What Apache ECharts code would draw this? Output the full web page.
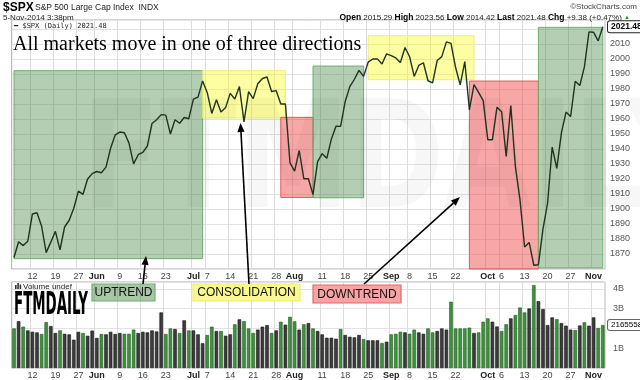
<!DOCTYPE html>
<html><head><meta charset="utf-8">
<script src="https://cdn.jsdelivr.net/npm/echarts@6/dist/echarts.min.js"></script>
<style>html,body{margin:0;padding:0;background:#fff}#c{width:640px;height:380px}</style>
</head><body><div id="c"></div>
<script>
// ---- data (S&P 500 daily, 6-May-2014 .. 5-Nov-2014) ----
const dates = [
 '05-06','05-07','05-08','05-09','05-12','05-13','05-14','05-15','05-16','05-19','05-20','05-21','05-22','05-23','05-27','05-28','05-29','05-30',
 '06-02','06-03','06-04','06-05','06-06','06-09','06-10','06-11','06-12','06-13','06-16','06-17','06-18','06-19','06-20','06-23','06-24','06-25','06-26','06-27','06-30',
 '07-01','07-02','07-03','07-07','07-08','07-09','07-10','07-11','07-14','07-15','07-16','07-17','07-18','07-21','07-22','07-23','07-24','07-25','07-28','07-29','07-30','07-31',
 '08-01','08-04','08-05','08-06','08-07','08-08','08-11','08-12','08-13','08-14','08-15','08-18','08-19','08-20','08-21','08-22','08-25','08-26','08-27','08-28','08-29',
 '09-02','09-03','09-04','09-05','09-08','09-09','09-10','09-11','09-12','09-15','09-16','09-17','09-18','09-19','09-22','09-23','09-24','09-25','09-26','09-29','09-30',
 '10-01','10-02','10-03','10-06','10-07','10-08','10-09','10-10','10-13','10-14','10-15','10-16','10-17','10-20','10-21','10-22','10-23','10-24','10-27','10-28','10-29','10-30','10-31',
 '11-03','11-04','11-05'];
const closes = [
 1867.7,1878.2,1875.6,1878.5,1896.7,1897.5,1888.5,1870.9,1877.9,1885.1,1872.8,1888.0,1892.5,1900.5,1911.9,1909.8,1920.0,1923.6,
 1925.0,1924.2,1927.9,1940.5,1949.4,1951.3,1950.8,1943.9,1930.1,1936.2,1937.8,1942.0,1957.0,1959.5,1962.9,1962.6,1950.0,1959.5,1957.2,1961.0,1960.2,
 1973.3,1974.6,1985.4,1977.7,1963.7,1972.8,1964.7,1967.6,1977.1,1973.3,1981.6,1958.1,1978.2,1973.6,1983.5,1987.0,1988.0,1978.3,1978.9,1970.0,1970.1,1930.7,
 1925.2,1939.0,1920.2,1920.2,1909.6,1931.6,1936.9,1933.8,1946.7,1955.2,1955.1,1971.7,1981.6,1986.5,1992.4,1988.4,1997.9,2000.0,2000.1,1996.7,2003.4,
 2002.3,2000.7,1997.7,2007.7,2001.5,1988.4,1995.7,1997.5,1985.5,1984.1,1999.0,2001.6,2011.4,2010.4,1994.3,1982.8,1998.3,1966.0,1982.9,1977.8,1972.3,
 1946.2,1946.2,1967.9,1964.8,1935.1,1968.9,1928.2,1906.1,1874.7,1877.7,1862.5,1862.8,1886.8,1904.0,1941.3,1927.1,1950.8,1964.6,1961.6,1985.1,1982.3,1994.7,2018.1,
 2017.8,2012.1,2021.48];
// volume in billions of shares
const volumes = [
 2.00,2.37,2.09,1.90,1.83,1.80,1.72,2.32,2.12,1.77,
 1.90,1.73,1.70,1.43,1.83,1.77,1.63,1.89,1.52,1.72,
 1.70,1.83,1.72,1.77,1.73,1.73,1.94,1.77,1.83,1.80,
 1.90,1.85,2.81,1.72,2.00,1.97,1.77,2.41,1.90,1.90,
 1.70,1.25,1.67,2.09,1.87,1.87,1.63,1.70,2.21,2.46,
 2.37,2.00,1.77,1.94,2.09,2.17,1.77,1.90,2.34,2.19,
 2.59,2.36,1.94,2.21,2.27,2.00,1.87,1.70,1.53,1.53,
 1.48,1.97,1.67,1.58,1.55,1.67,1.46,1.40,1.40,1.40,
 1.26,1.33,1.70,1.73,1.83,1.80,1.73,1.94,1.80,1.73,
 2.00,1.80,1.87,2.00,1.94,3.35,2.00,2.00,2.00,2.04,
 1.77,1.80,2.34,2.51,2.34,2.10,1.87,2.21,2.51,2.68,
 3.06,2.81,3.01,4.19,3.38,2.98,2.17,2.56,2.47,2.27,
 2.14,1.94,1.92,2.15,2.31,2.14,2.56,2.02,2.17];
// 1 = green (up) bar, 0 = dark (down) bar
const volUp = [
 1,0,1,0,0,0,1,1,0,0, 1,0,0,0,0,1,0,0,0,1, 0,0,0,0,1,1,1,0,0,0, 0,0,0,1,1,0,1,0,1,0,
 0,0,1,1,0,1,0,0,1,0, 1,1,1,0,0,0,1,0,1,0, 1,1,0,1,0,1,0,0,0,0, 0,1,0,0,0,0,1,0,0,0,
 1,0,1,1,1,0,1,1,0,0, 1,1,0,0,0,1,1,1,1,1, 0,1,1,1,0,0,1,1,0,1, 1,1,0,1,0,0,0,0,1,0,
 0,0,1,0,1,0,0,1,1];
const tickDates  = ['05-12','05-19','05-27','06-02','06-09','06-16','06-23','07-01','07-07','07-14','07-21','07-28','08-01','08-11','08-18','08-25','09-02','09-08','09-15','09-22','10-01','10-06','10-13','10-20','10-27','11-03'];
const tickLabels = ['12','19','27','Jun','9','16','23','Jul','7','14','21','28','Aug','11','18','25','Sep','8','15','22','Oct','6','13','20','27','Nov'];
// highlighted zones: kind, from date, to date, upper price, lower price
const zoneKind = ['up','flat','down','up','flat','down','up'];
const zoneFrom = ['05-06','07-03','07-29','08-07','08-25','09-25','10-16'];
const zoneTo   = ['07-03','07-30','08-07','08-22','09-26','10-16','11-05'];
const zoneHi   = [1992.2,1992.2,1961.1,1995.3,2015.5,1985.3,2021.1];
const zoneLo   = [1866.9,1960.7,1907.7,1907.5,1986.2,1860.0,1860.7];
const lastVolLabel = '2165558496';
const headerQuote = '{b|Open} 2015.29 {b|High} 2023.56 {b|Low} 2014.42 {b|Last} 2021.48 {b|Chg} {g|+9.38 (+0.47%)} {u|▲}';

// ---- chart ----
const chart = echarts.init(document.getElementById('c'), null, {renderer:'canvas'});
const SANS = '"Liberation Sans", Arial, sans-serif';
const zoneStyle = {
  up:   {color:'rgba(60,130,60,0.39)', borderColor:'#6fae6f', borderWidth:1},
  flat: {color:'rgba(250,250,0,0.37)', borderColor:'#eded80', borderWidth:1},
  down: {color:'rgba(240,60,60,0.45)', borderColor:'#e35a5a', borderWidth:1}
};
const tickIdx = new Set(tickDates.map(d => dates.indexOf(d)));
function xAxisCfg(gi){
  return {
    type:'category', gridIndex:gi, data:dates, boundaryGap:true,
    axisLine:{show:false}, axisTick:{show:false},
    splitLine:{show:true, interval:(i)=>tickIdx.has(i), lineStyle:{color:'#dcdcdc', width:1}},
    axisLabel:{
      interval:(i)=>tickIdx.has(i), fontSize:9, color:'#444', fontFamily:SANS, margin:3,
      formatter:(v)=>{const t = tickLabels[tickDates.indexOf(v)]; return isNaN(+t) ? '{b|'+t+'}' : t;},
      rich:{b:{fontWeight:'bold', fontSize:9, color:'#222', fontFamily:SANS}}
    }
  };
}
const grids = [
  {left:11.7, top:20, width:593.4, height:249, show:true, borderColor:'#aaa', borderWidth:1, backgroundColor:'#fff'},
  {left:11.7, top:282, width:593.4, height:86, show:true, borderColor:'#aaa', borderWidth:1, backgroundColor:'#fff'}
];
const option = {
  animation:false,
  backgroundColor:'#fff',
  grid:grids,
  xAxis:[xAxisCfg(0), xAxisCfg(1)],
  yAxis:[
    {type:'value', gridIndex:0, position:'right', min:1860, max:2026, interval:10,
     axisLine:{show:false}, axisTick:{show:false},
     splitLine:{lineStyle:{color:'#e2e2e2'}},
     axisLabel:{fontSize:9, color:'#555', fontFamily:SANS, margin:5,
       formatter:(v)=> (v%10===0 && v>1860 && v<=2020) ? String(v) : ''}},
    {type:'value', gridIndex:1, position:'right', min:0, max:4.35, interval:1,
     axisLine:{show:false}, axisTick:{show:false},
     splitLine:{lineStyle:{color:'#e2e2e2'}},
     axisLabel:{fontSize:9, color:'#555', fontFamily:SANS, margin:8,
       formatter:(v)=> (Number.isInteger(v) && v>=1 && v<=4) ? v+'B' : ''}}
  ],
  series:[
    {type:'line', xAxisIndex:0, yAxisIndex:0, data:closes, showSymbol:false, z:5,
     lineStyle:{color:'#1f331f', width:1.4},
     markArea:{silent:true,
       data: zoneKind.map((k,i)=>[
         {xAxis:zoneFrom[i], yAxis:zoneHi[i], itemStyle:zoneStyle[k]},
         {xAxis:zoneTo[i], yAxis:zoneLo[i]}])}},
    {type:'bar', xAxisIndex:1, yAxisIndex:1, barWidth:'76%',
     data: volumes.map((v,i)=>({value:v, itemStyle:{
       color: volUp[i] ? '#3f923f' : '#3d3d3d',
       borderColor: volUp[i] ? '#1f5a1f' : '#111', borderWidth:0.6}}))}
  ]
};
chart.setOption(option);

// ---- annotations ----
function arrow(x1,y1,x2,y2){
  const a = Math.atan2(y2-y1, x2-x1), L = 9, W = 3.6;
  const bx = x2 - L*Math.cos(a), by = y2 - L*Math.sin(a);
  const px = -Math.sin(a)*W, py = Math.cos(a)*W;
  return [
    {type:'line', z:100, shape:{x1:x1, y1:y1, x2:bx, y2:by}, style:{stroke:'#000', lineWidth:1.6}},
    {type:'polygon', z:100, shape:{points:[[x2,y2],[bx+px,by+py],[bx-px,by-py]]}, style:{fill:'#000'}}
  ];
}
function labelBox(x,y,w,h,fill,stroke,text){
  return [
    {type:'rect', z:90, shape:{x:x, y:y, width:w, height:h}, style:{fill:fill, stroke:stroke, lineWidth:1.2}},
    {type:'text', z:91, x:x+w/2, y:y+h/2+0.5, style:{text:text, font:'12px '+SANS, fill:'#111', align:'center', verticalAlign:'middle'}}
  ];
}
const yLast = chart.convertToPixel({yAxisIndex:0}, closes[closes.length-1]);
const yVol = chart.convertToPixel({yAxisIndex:1}, volumes[volumes.length-1]);
const g = [
  // header
  {type:'text', x:3, y:8, style:{text:'$SPX', font:'bold 12px '+SANS, fill:'#000', verticalAlign:'middle'}},
  {type:'text', x:35, y:8, style:{text:'S&P 500 Large Cap Index  INDX', font:'8.5px '+SANS, fill:'#222', verticalAlign:'middle'}},
  {type:'text', x:3, y:17.5, style:{text:'5-Nov-2014 3:38pm', font:'8px '+SANS, fill:'#222', verticalAlign:'middle'}},
  {type:'text', x:637, y:7, style:{text:'©StockCharts.com', font:'8px '+SANS, fill:'#444', align:'right', verticalAlign:'middle'}},
  {type:'text', x:630, y:17.5, style:{text:headerQuote, fontSize:8, fontFamily:SANS, fill:'#222', align:'right', verticalAlign:'middle',
     rich:{b:{fontWeight:'bold', fontSize:8.5, fontFamily:SANS, fill:'#000'}, g:{fontSize:8, fontFamily:SANS, fill:'#222'}, u:{fontSize:6, fill:'#2e8b2e'}}}},
  // legend inside price panel
  {type:'text', x:14, y:26, z:50, style:{text:'━ $SPX (Daily) 2021.48', font:'7px "DejaVu Sans Mono", monospace', fill:'#222', verticalAlign:'middle'}},
  // watermark
  {type:'text', x:82, y:168, z:1, scaleX:0.84, style:{text:'FTMDAILY', font:'bold 150px "Liberation Sans Narrow", "DejaVu Sans Condensed", sans-serif', fill:'rgba(0,0,0,0.03)', verticalAlign:'middle'}},
  // title
  {type:'text', x:13, y:45, z:60, style:{text:'All markets move in one of three directions', font:'20px "Liberation Serif", "DejaVu Serif", serif', fill:'#000', verticalAlign:'middle'}},
  // price tag
  {type:'text', z:80, x:608, y:yLast, style:{text:'2021.48', font:'bold 8.5px '+SANS, fill:'#000', backgroundColor:'#fff', borderColor:'#222', borderWidth:1, borderRadius:2, padding:[1,2,1,3], verticalAlign:'middle'}},
  // volume tag
  {type:'text', z:80, x:608, y:yVol, style:{text:lastVolLabel, font:'8px '+SANS, fill:'#000', backgroundColor:'#fff', borderColor:'#666', borderWidth:1, borderRadius:2, padding:[1,2,1,3], verticalAlign:'middle'}},
  // volume panel legend + logo
  {type:'rect', z:50, shape:{x:15, y:285, width:1.6, height:4}, style:{fill:'#333'}},
  {type:'rect', z:50, shape:{x:17.3, y:283, width:1.6, height:6}, style:{fill:'#333'}},
  {type:'rect', z:50, shape:{x:19.6, y:284.5, width:1.6, height:4.5}, style:{fill:'#333'}},
  {type:'text', z:50, x:23, y:286.5, style:{text:'Volume undef', font:'8px '+SANS, fill:'#222', verticalAlign:'middle'}},
  {type:'text', z:50, x:14, y:306, scaleX:0.62, scaleY:1.3, style:{text:'FTMDAILY', font:'bold 24px "Liberation Sans Narrow", "DejaVu Sans Condensed", sans-serif', fill:'#000', verticalAlign:'middle'}},
  ...labelBox(92, 284, 63, 17, 'rgba(60,130,60,0.45)', '#74ad74', 'UPTREND'),
  ...labelBox(193, 284, 107, 17, '#f8f88e', '#eeee7a', 'CONSOLIDATION'),
  ...labelBox(313, 285, 88, 18, '#f5a3a3', '#e26a6a', 'DOWNTREND'),
  ...arrow(143, 284, 146, 256),
  ...arrow(249, 284, 240.5, 123),
  ...arrow(364, 284, 460, 197)
];
chart.setOption({graphic:{elements:g}});
</script>
</body></html>
